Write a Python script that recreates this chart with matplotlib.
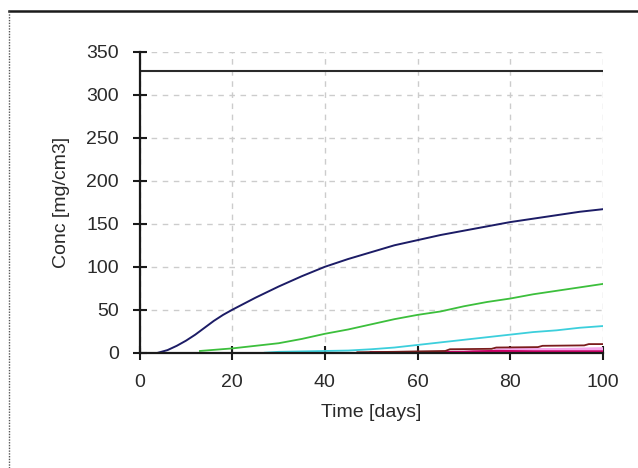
import matplotlib
matplotlib.use("Agg")
import matplotlib.pyplot as plt
from matplotlib.lines import Line2D

plt.rcParams['font.family'] = ['Liberation Sans', 'DejaVu Sans']

# Reference level (solubility limit)
limit_t = [0, 100]
limit_c = [328, 328]

# Concentration series [mg/cm3] vs time [days]
navy_t = [4, 6, 8, 10, 12, 14, 16, 18, 20, 25, 30, 35, 40, 45, 50, 55, 60,
          65, 70, 75, 80, 85, 90, 95, 100]
navy_c = [0, 3, 8, 14, 21, 29, 37, 44, 50, 64, 77, 89, 100, 109, 117, 125,
          131, 137, 142, 147, 152, 156, 160, 164, 167]

green_t = [13, 20, 25, 30, 35, 40, 45, 50, 55, 60, 65, 70, 75, 80, 85, 90, 95, 100]
green_c = [2, 5, 8, 11, 16, 22, 27, 33, 39, 44, 48, 54, 59, 63, 68, 72, 76, 80]

cyan_t = [27, 30, 35, 40, 45, 50, 55, 60, 65, 70, 75, 80, 85, 90, 95, 100]
cyan_c = [0, 1, 1.5, 2, 2.5, 4, 6, 9, 12, 15, 18, 21, 24, 26, 29, 31]

red_t = [47, 55, 60, 66, 67, 76, 77, 86, 87, 96, 97, 100]
red_c = [0.5, 1, 1.5, 2, 4, 4.5, 6, 6.5, 8, 8.5, 10, 10]

pink_t = [77, 80, 85, 90, 95, 100]
pink_c = [2.5, 3, 3, 3, 3.5, 4]

magenta_t = [50, 60, 70, 72, 77, 85, 100]
magenta_c = [0, 0, 0.5, 1, 1.5, 1, 1]

x_ticks = [0, 20, 40, 60, 80, 100]
y_ticks = [0, 50, 100, 150, 200, 250, 300, 350]

fig = plt.figure(figsize=(6.38, 4.68), dpi=100)
ax = fig.add_axes([0.219, 0.2464, 0.7257, 0.6425])

ax.plot(limit_t, limit_c, color='#2a2a2a', lw=1.5)
ax.plot(pink_t, pink_c, color='#f4a8ec', lw=3.0)
ax.plot(magenta_t, magenta_c, color='#cc0066', lw=2.2)
ax.plot(red_t, red_c, color='#7a1c1c', lw=1.3)
ax.plot(cyan_t, cyan_c, color='#3ccfdc', lw=1.3)
ax.plot(green_t, green_c, color='#3cbf3c', lw=1.3)
ax.plot(navy_t, navy_c, color='#1c1c66', lw=1.4)

ax.set_xlim(0, 100)
ax.set_ylim(0, 350)
ax.set_xticks(x_ticks)
ax.set_yticks(y_ticks)

ax.grid(True, color='#cccccc', linestyle=(0, (4, 4)), linewidth=1.0)
ax.set_axisbelow(True)
for side in ('top', 'right'):
    ax.spines[side].set_visible(False)
for side in ('left', 'bottom'):
    ax.spines[side].set_linewidth(1.6)
    ax.spines[side].set_color('#1a1a1a')
    ax.spines[side].set_zorder(5)
ax.tick_params(direction='inout', length=10, width=1.5, color='#1a1a1a',
               labelsize=14, labelcolor='#2a2a2a', pad=10)

ax.set_xlabel('Time [days]', fontsize=14, color='#2a2a2a', labelpad=10)
ax.set_ylabel('Conc [mg/cm3]', fontsize=14, color='#2a2a2a', labelpad=12)

# Panel border: solid top edge, dotted left edge
fig.add_artist(Line2D([9 / 638, 1.0], [1 - 11 / 468, 1 - 11 / 468],
                      transform=fig.transFigure, color='#1a1a1a', lw=1.8))
fig.add_artist(Line2D([9 / 638, 9 / 638], [0, 1 - 11 / 468],
                      transform=fig.transFigure, color='#555555', lw=1.0,
                      linestyle=(0, (1, 1))))

fig.savefig('out.png', dpi=100, facecolor='white')
